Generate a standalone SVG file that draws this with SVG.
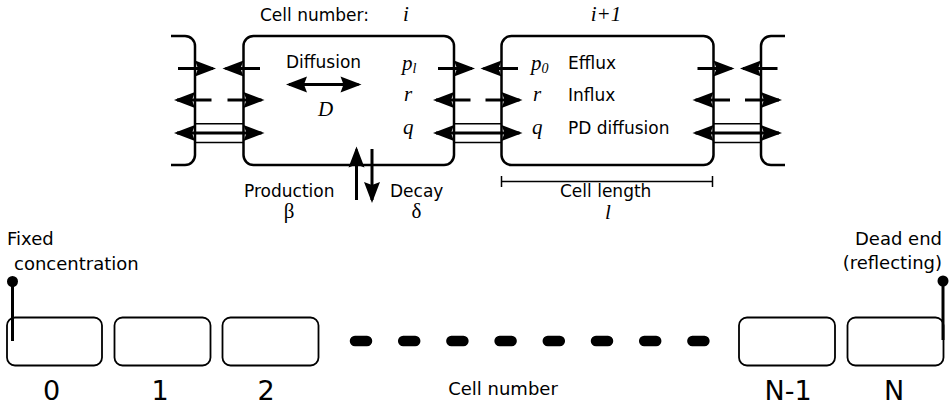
<svg xmlns="http://www.w3.org/2000/svg" width="949" height="405" viewBox="0 0 949 405">
<style>
  .cell { fill: #fff; stroke: #000; stroke-width: 2.5; }
  .box { fill: #fff; stroke: #000; stroke-width: 1.8; }
  .arr { fill: none; stroke: #000; stroke-width: 3; }
  .thin { fill: none; stroke: #000; stroke-width: 1.5; }
  .pin { fill: none; stroke: #000; stroke-width: 3; }
  .sans { font-family: "DejaVu Sans", "Liberation Sans", sans-serif; font-size: 17px; fill: #000; }
  .sansb { font-family: "DejaVu Sans", "Liberation Sans", sans-serif; font-size: 18px; fill: #000; }
  .num { font-family: "DejaVu Sans", "Liberation Sans", sans-serif; font-size: 27px; fill: #000; text-anchor: middle; }
  .mi { font-family: "Liberation Serif", "DejaVu Serif", serif; font-style: italic; font-size: 21px; fill: #000; }
  .gr { font-family: "Liberation Serif", "DejaVu Serif", serif; font-size: 21px; fill: #000; text-anchor: middle; }
</style>
<defs>
  <marker id="ah" viewBox="-19 -9 23 18" refX="0" refY="0" markerWidth="23" markerHeight="18" markerUnits="userSpaceOnUse" orient="auto-start-reverse">
    <path d="M3,0 L-18,-8 L-15,0 L-18,8 Z" fill="#000"/>
  </marker>
</defs>
<rect width="949" height="405" fill="#fff"/>

<!-- Top detail: cells -->
<g id="cell-left-partial"><path class="cell" d="M171,36 H185 A10,10 0 0 1 195,46 V155 A10,10 0 0 1 185,165 H171"/></g>
<g id="cell-i"><rect class="cell" x="243.5" y="36" width="210.5" height="129" rx="10"/></g>
<g id="cell-i1"><rect class="cell" x="501.5" y="36" width="212" height="129" rx="10"/></g>
<g id="cell-right-partial"><path class="cell" d="M785,36 H771 A10,10 0 0 0 761,46 V155 A10,10 0 0 0 771,165 H785"/></g>

<g id="connectors">
  <!-- gap 1: L=195 R=243.5 -->
  <path class="arr" d="M178,68.5 H213" marker-end="url(#ah)"/>
  <path class="arr" d="M260,68.5 H225.5" marker-end="url(#ah)"/>
  <path class="arr" d="M211.5,100 H177" marker-end="url(#ah)"/>
  <path class="arr" d="M227.5,100 H261.5" marker-end="url(#ah)"/>
  <path class="thin" d="M195,123.8 H243.5 M195,142.5 H243.5"/>
  <path class="arr" d="M177,133 H261.5" marker-start="url(#ah)" marker-end="url(#ah)"/>
  <!-- gap 2: L=454 R=501.5 -->
  <path class="arr" d="M438,68.5 H472" marker-end="url(#ah)"/>
  <path class="arr" d="M518,68.5 H483.5" marker-end="url(#ah)"/>
  <path class="arr" d="M470.5,100 H436" marker-end="url(#ah)"/>
  <path class="arr" d="M485.5,100 H519.5" marker-end="url(#ah)"/>
  <path class="thin" d="M454,123.8 H501.5 M454,142.5 H501.5"/>
  <path class="arr" d="M436,133 H519.5" marker-start="url(#ah)" marker-end="url(#ah)"/>
  <!-- gap 3: L=713.5 R=761 -->
  <path class="arr" d="M697.5,68.5 H731.5" marker-end="url(#ah)"/>
  <path class="arr" d="M777.5,68.5 H743" marker-end="url(#ah)"/>
  <path class="arr" d="M730,100 H695.5" marker-end="url(#ah)"/>
  <path class="arr" d="M745,100 H779" marker-end="url(#ah)"/>
  <path class="thin" d="M713.5,123.8 H761 M713.5,142.5 H761"/>
  <path class="arr" d="M695.5,133 H779" marker-start="url(#ah)" marker-end="url(#ah)"/>
  <!-- diffusion inside cell -->
  <path class="arr" d="M289,84.5 H358.5" marker-start="url(#ah)" marker-end="url(#ah)"/>
  <!-- production / decay -->
  <path class="arr" d="M356.5,200 V149.5" marker-end="url(#ah)"/>
  <path class="arr" d="M372,149 V200" marker-end="url(#ah)"/>
  <!-- cell length bracket -->
  <path class="thin" d="M501.5,181.5 H712.5 M501.5,176 V187 M712.5,176 V187"/>
</g>

<g id="labels-top">
  <text class="sans" x="260" y="20.5">Cell number:</text>
  <text class="mi" x="406" y="20.5" text-anchor="middle" font-size="22">i</text>
  <text class="mi" x="606" y="20.5" text-anchor="middle" font-size="22">i+1</text>
  <text class="sans" x="286" y="68">Diffusion</text>
  <text class="mi" x="325.5" y="116" text-anchor="middle">D</text>
  <text class="mi" x="402" y="70">p<tspan font-size="14" dy="3">l</tspan></text>
  <text class="mi" x="404" y="101">r</text>
  <text class="mi" x="403" y="134">q</text>
  <text class="mi" x="531" y="70">p<tspan font-size="14" dy="3">0</tspan></text>
  <text class="mi" x="533" y="101">r</text>
  <text class="mi" x="532" y="134">q</text>
  <text class="sans" x="568" y="68.5">Efflux</text>
  <text class="sans" x="568" y="100.5">Influx</text>
  <text class="sans" x="568" y="133.5">PD diffusion</text>
  <text class="sans" x="244" y="197">Production</text>
  <text class="sans" x="390" y="197">Decay</text>
  <text class="gr" x="289" y="218">β</text>
  <text class="gr" x="416.5" y="218">δ</text>
  <text class="sans" x="560" y="197">Cell length</text>
  <text class="mi" x="608" y="219" text-anchor="middle">l</text>
</g>

<!-- Bottom chain -->
<g id="cell-0"><rect class="box" x="7" y="317.5" width="95" height="48" rx="8"/><text class="num" x="51.5" y="400">0</text></g>
<g id="cell-1"><rect class="box" x="114.5" y="317.5" width="96" height="48" rx="8"/><text class="num" x="160" y="400">1</text></g>
<g id="cell-2"><rect class="box" x="222.5" y="317.5" width="96" height="48" rx="8"/><text class="num" x="266" y="400">2</text></g>
<g id="ellipsis"><path d="M355,341 H705" stroke="#000" stroke-width="10.5" stroke-linecap="round" stroke-dasharray="12 36.2" fill="none"/></g>
<g id="cell-n1"><rect class="box" x="739" y="317.5" width="96" height="48" rx="8"/><text class="num" x="788" y="400">N-1</text></g>
<g id="cell-n"><rect class="box" x="847.5" y="317.5" width="96" height="48" rx="8"/><text class="num" x="894" y="400">N</text></g>
<g id="fixed-pin">
  <path class="pin" d="M12.5,281.5 V341"/>
  <circle cx="12.5" cy="281.5" r="5.5" fill="#000"/>
  <text class="sansb" x="7" y="245">Fixed</text>
  <text class="sansb" x="14" y="269.5">concentration</text>
</g>
<g id="dead-end-pin">
  <path class="pin" d="M943,281 V340"/>
  <circle cx="943" cy="281" r="5.5" fill="#000"/>
  <text class="sansb" x="942" y="245" text-anchor="end">Dead end</text>
  <text class="sansb" x="942" y="269" text-anchor="end">(reflecting)</text>
</g>
<text class="sansb" x="503" y="395" text-anchor="middle">Cell number</text>
</svg>
